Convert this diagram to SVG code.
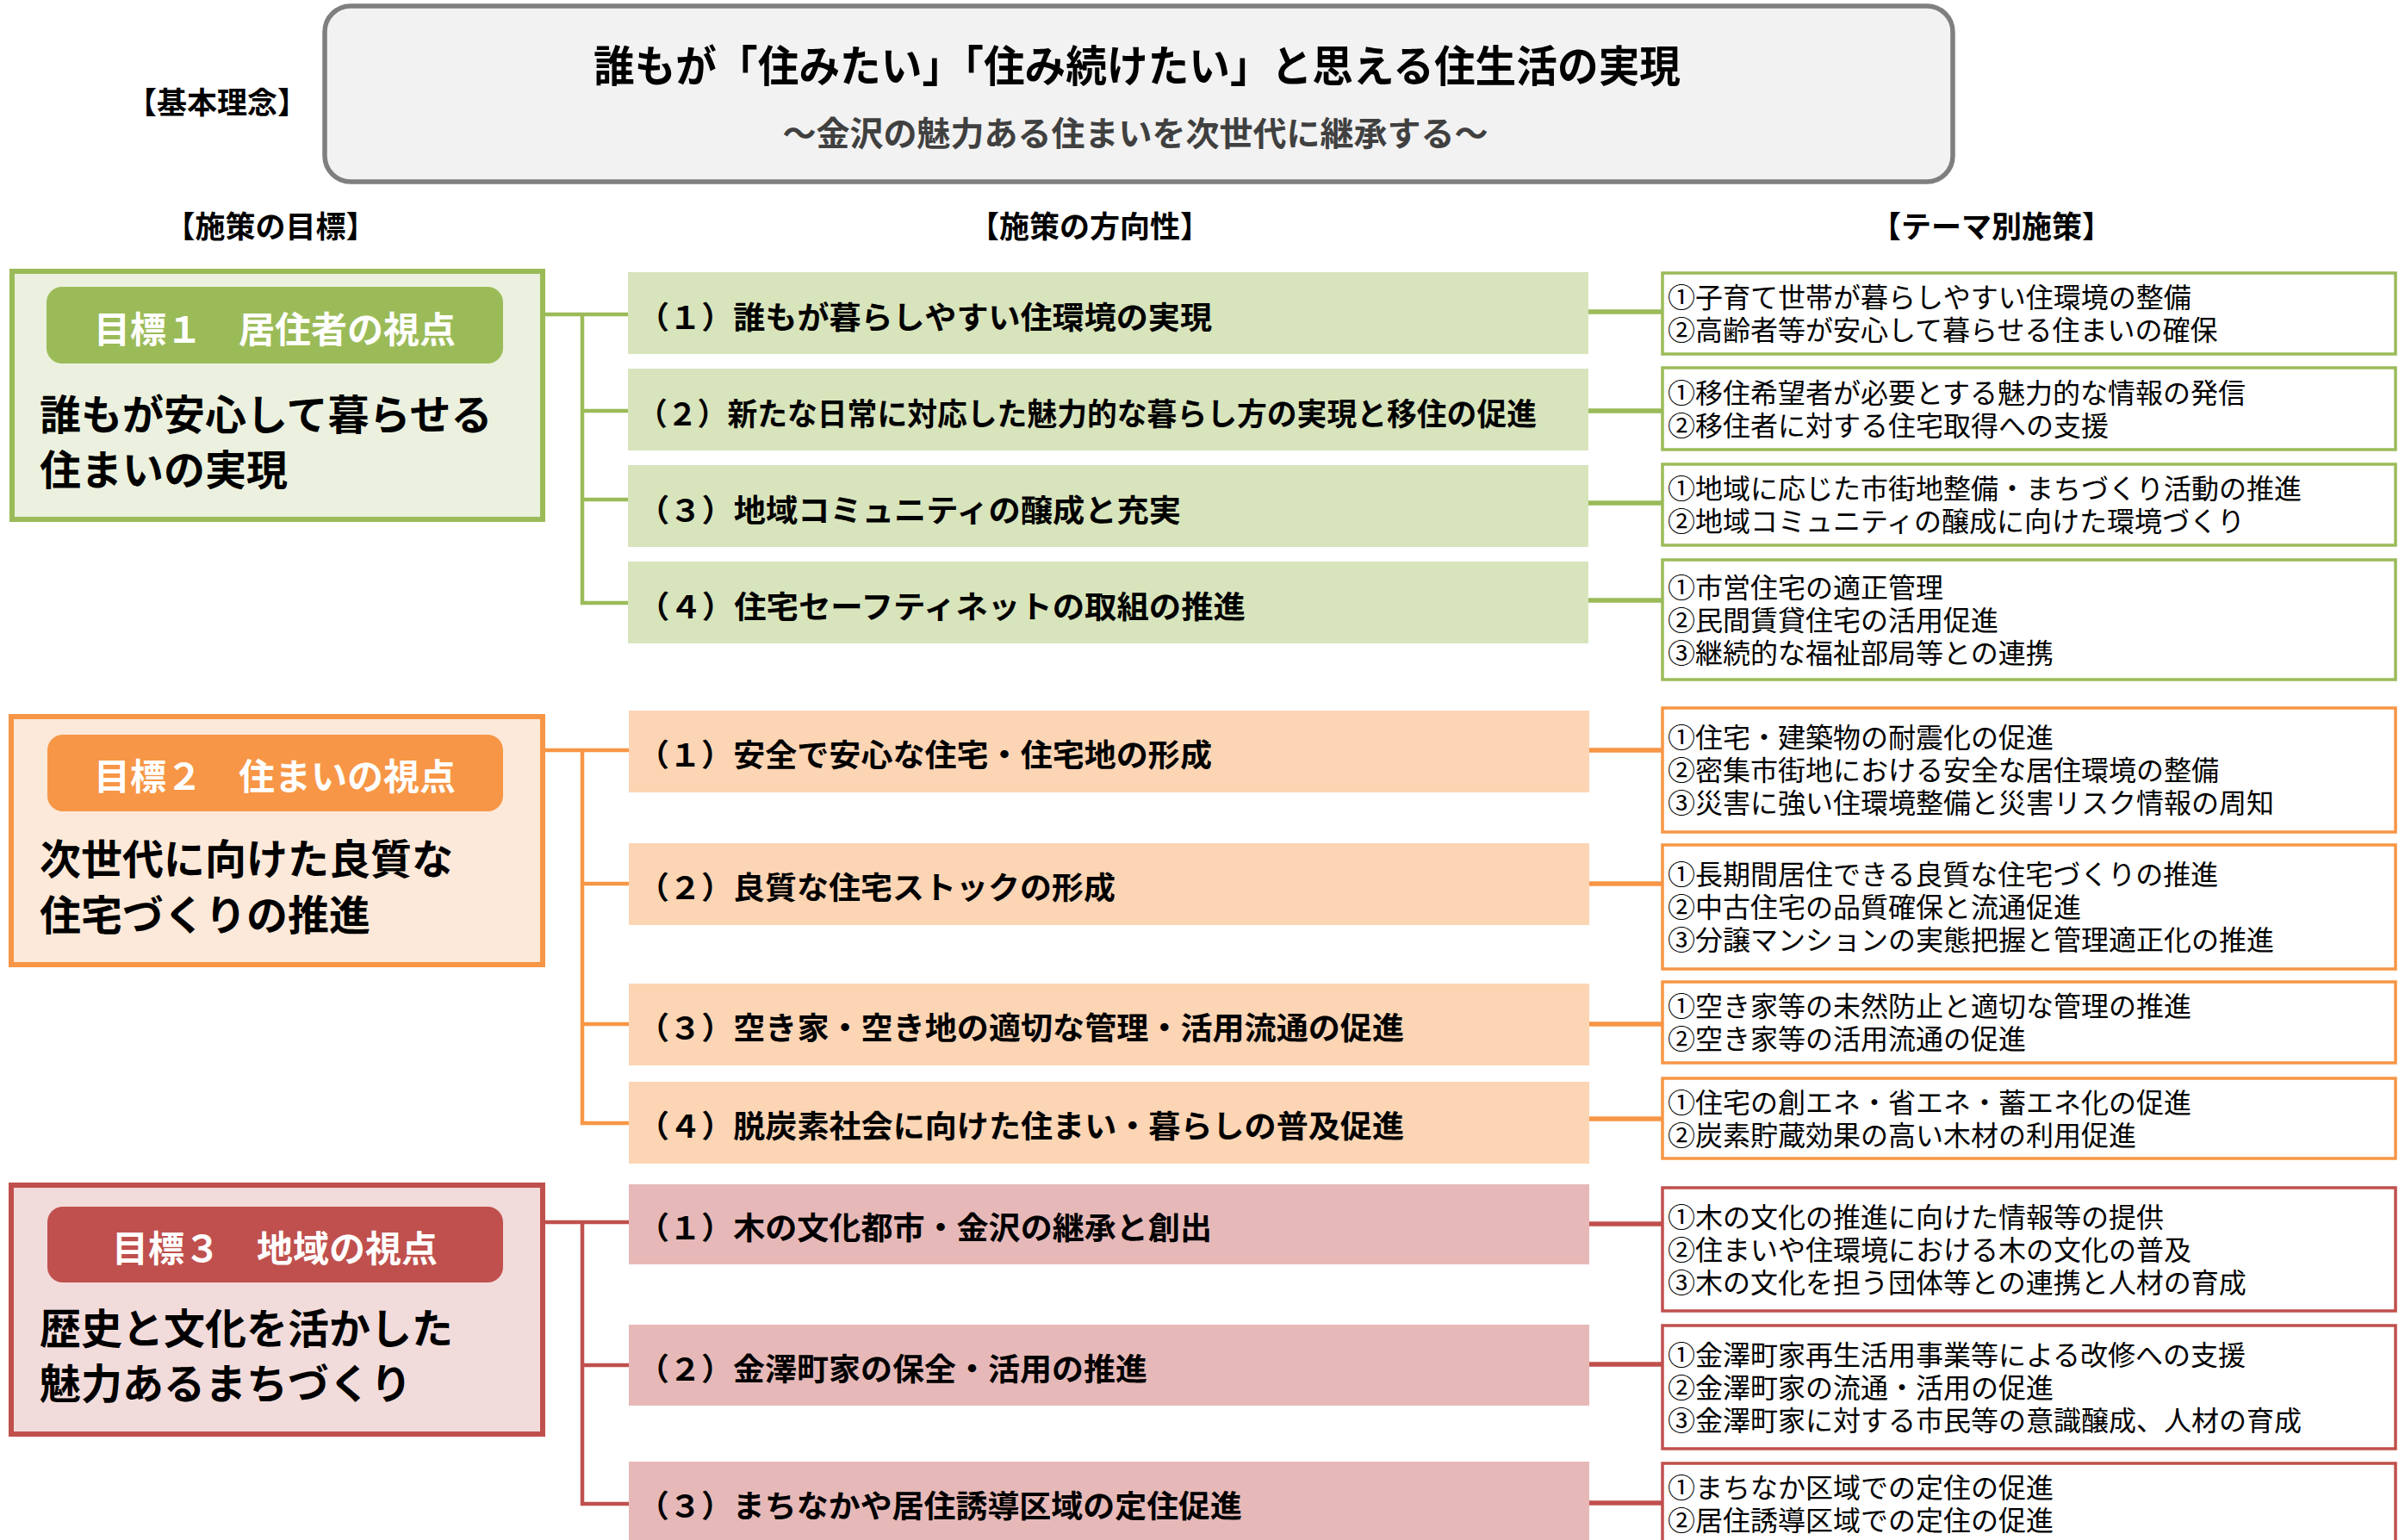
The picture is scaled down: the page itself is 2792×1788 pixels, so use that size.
<svg xmlns="http://www.w3.org/2000/svg" width="2792" height="1788" viewBox="0 0 2792 1788">
<style>
text{font-family:"Noto Sans CJK JP","Noto Sans",sans-serif}
.hd{font-size:35px;font-weight:700;fill:#000;text-anchor:middle}
.pill{font-size:42px;font-weight:700;fill:#fff;text-anchor:middle}
.body{font-size:48px;font-weight:700;fill:#000}
.dir{font-size:36px;font-weight:700;fill:#000}
.th{font-size:32px;fill:#000}
.gB{fill:#ebf1de;stroke:#9bbb59;stroke-width:6}
.oB{fill:#fde9d9;stroke:#f79646;stroke-width:6}
.rB{fill:#f2dcdb;stroke:#c0504d;stroke-width:6}
.gD{fill:#d8e4bc}.oD{fill:#fcd5b5}.rD{fill:#e6b9b8}
.gT{fill:#fff;stroke:#9bbb59;stroke-width:3.5}
.oT{fill:#fff;stroke:#f79646;stroke-width:3.5}
.rT{fill:#fff;stroke:#c0504d;stroke-width:3.5}
.cl{fill:none;stroke-width:4.5}
.cr{fill:none;stroke-width:5.5}
</style>
<g id="title">
<rect x="377" y="7" width="1890" height="204" rx="30" fill="#f2f2f2" stroke="#7f7f7f" stroke-width="5.5"/>
<text x="1320" y="95" font-size="50" font-weight="700" text-anchor="middle" textLength="1262" lengthAdjust="spacingAndGlyphs">誰もが「住みたい」「住み続けたい」と思える住生活の実現</text>
<text x="1318" y="169" font-size="39" font-weight="700" fill="#404040" text-anchor="middle">～金沢の魅力ある住まいを次世代に継承する～</text>
</g>
<g id="headers">
<text class="hd" x="252" y="132">【基本理念】</text>
<text class="hd" x="314" y="276">【施策の目標】</text>
<text class="hd" x="1265" y="276">【施策の方向性】</text>
<text class="hd" x="2312" y="276">【テーマ別施策】</text>
</g>
<g id="connectors">
<path class="cl" stroke="#9bbb59" d="M633 365H729M676 365V700H729M676 477H729M676 580H729"/>
<path class="cl" stroke="#f79646" d="M633 871H730M676 871V1304H730M676 1026H730M676 1189H730"/>
<path class="cl" stroke="#c0504d" d="M633 1419H730M676 1419V1746H730M676 1585H730"/>
<path class="cr" stroke="#9bbb59" d="M1844 362H1930M1844 477H1930M1844 584H1930M1844 697H1930"/>
<path class="cr" stroke="#f79646" d="M1845 871H1930M1845 1026H1930M1845 1189H1930M1845 1299H1930"/>
<path class="cr" stroke="#c0504d" d="M1845 1421H1930M1845 1584H1930M1845 1745H1930"/>
</g>
<g id="goal1">
<rect class="gB" x="14" y="315" width="616" height="288"/>
<rect x="54" y="333" width="530" height="89" rx="18" fill="#9bbb59"/>
<text class="pill" x="319" y="398">目標１　居住者の視点</text>
<text class="body" x="46" y="499">誰もが安心して暮らせる<tspan x="46" dy="64">住まいの実現</tspan></text>
</g>
<g id="goal2">
<rect class="oB" x="13" y="832" width="617" height="288"/>
<rect x="55" y="853" width="529" height="89" rx="18" fill="#f79646"/>
<text class="pill" x="319" y="917">目標２　住まいの視点</text>
<text class="body" x="46" y="1015">次世代に向けた良質な<tspan x="46" dy="65">住宅づくりの推進</tspan></text>
</g>
<g id="goal3">
<rect class="rB" x="13" y="1376" width="617" height="289"/>
<rect x="55" y="1401" width="529" height="88" rx="18" fill="#c0504d"/>
<text class="pill" x="319" y="1465">目標３　地域の視点</text>
<text class="body" x="46" y="1560">歴史と文化を活かした<tspan x="46" dy="64">魅力あるまちづくり</tspan></text>
</g>
<g id="dir-g1"><rect class="gD" x="729" y="316" width="1115" height="95"/><text class="dir" x="740" y="382" textLength="667" lengthAdjust="spacingAndGlyphs">（１）誰もが暮らしやすい住環境の実現</text></g>
<g id="dir-g2"><rect class="gD" x="729" y="428" width="1115" height="95"/><text class="dir" x="740" y="494" textLength="1044" lengthAdjust="spacingAndGlyphs">（２）新たな日常に対応した魅力的な暮らし方の実現と移住の促進</text></g>
<g id="dir-g3"><rect class="gD" x="729" y="540" width="1115" height="95"/><text class="dir" x="740" y="606" textLength="631" lengthAdjust="spacingAndGlyphs">（３）地域コミュニティの醸成と充実</text></g>
<g id="dir-g4"><rect class="gD" x="729" y="652" width="1115" height="95"/><text class="dir" x="740" y="718" textLength="706" lengthAdjust="spacingAndGlyphs">（４）住宅セーフティネットの取組の推進</text></g>
<g id="dir-o1"><rect class="oD" x="730" y="825" width="1115" height="95"/><text class="dir" x="740" y="890" textLength="667" lengthAdjust="spacingAndGlyphs">（１）安全で安心な住宅・住宅地の形成</text></g>
<g id="dir-o2"><rect class="oD" x="730" y="979" width="1115" height="95"/><text class="dir" x="740" y="1044" textLength="555" lengthAdjust="spacingAndGlyphs">（２）良質な住宅ストックの形成</text></g>
<g id="dir-o3"><rect class="oD" x="730" y="1142" width="1115" height="95"/><text class="dir" x="740" y="1207" textLength="890" lengthAdjust="spacingAndGlyphs">（３）空き家・空き地の適切な管理・活用流通の促進</text></g>
<g id="dir-o4"><rect class="oD" x="730" y="1256" width="1115" height="95"/><text class="dir" x="740" y="1321" textLength="890" lengthAdjust="spacingAndGlyphs">（４）脱炭素社会に向けた住まい・暮らしの普及促進</text></g>
<g id="dir-r1"><rect class="rD" x="730" y="1375" width="1115" height="93"/><text class="dir" x="740" y="1439" textLength="667" lengthAdjust="spacingAndGlyphs">（１）木の文化都市・金沢の継承と創出</text></g>
<g id="dir-r2"><rect class="rD" x="730" y="1538" width="1115" height="94"/><text class="dir" x="740" y="1603" textLength="592" lengthAdjust="spacingAndGlyphs">（２）金澤町家の保全・活用の推進</text></g>
<g id="dir-r3"><rect class="rD" x="730" y="1697" width="1115" height="95"/><text class="dir" x="740" y="1762" textLength="702" lengthAdjust="spacingAndGlyphs">（３）まちなかや居住誘導区域の定住促進</text></g>
<g id="th-g1"><rect class="gT" x="1930" y="317" width="851" height="94"/><text class="th" x="1936" y="357">①子育て世帯が暮らしやすい住環境の整備<tspan x="1936" dy="38">②高齢者等が安心して暮らせる住まいの確保</tspan></text></g>
<g id="th-g2"><rect class="gT" x="1930" y="427" width="851" height="95"/><text class="th" x="1936" y="468">①移住希望者が必要とする魅力的な情報の発信<tspan x="1936" dy="38">②移住者に対する住宅取得への支援</tspan></text></g>
<g id="th-g3"><rect class="gT" x="1930" y="539" width="851" height="94"/><text class="th" x="1936" y="579">①地域に応じた市街地整備・まちづくり活動の推進<tspan x="1936" dy="38">②地域コミュニティの醸成に向けた環境づくり</tspan></text></g>
<g id="th-g4"><rect class="gT" x="1930" y="650" width="851" height="139"/><text class="th" x="1936" y="694">①市営住宅の適正管理<tspan x="1936" dy="38">②民間賃貸住宅の活用促進</tspan><tspan x="1936" dy="38">③継続的な福祉部局等との連携</tspan></text></g>
<g id="th-o1"><rect class="oT" x="1930" y="822" width="851" height="144"/><text class="th" x="1936" y="868">①住宅・建築物の耐震化の促進<tspan x="1936" dy="38">②密集市街地における安全な居住環境の整備</tspan><tspan x="1936" dy="38">③災害に強い住環境整備と災害リスク情報の周知</tspan></text></g>
<g id="th-o2"><rect class="oT" x="1930" y="981" width="851" height="144"/><text class="th" x="1936" y="1027">①長期間居住できる良質な住宅づくりの推進<tspan x="1936" dy="38">②中古住宅の品質確保と流通促進</tspan><tspan x="1936" dy="38">③分譲マンションの実態把握と管理適正化の推進</tspan></text></g>
<g id="th-o3"><rect class="oT" x="1930" y="1140" width="851" height="94"/><text class="th" x="1936" y="1180">①空き家等の未然防止と適切な管理の推進<tspan x="1936" dy="38">②空き家等の活用流通の促進</tspan></text></g>
<g id="th-o4"><rect class="oT" x="1930" y="1252" width="851" height="93"/><text class="th" x="1936" y="1292">①住宅の創エネ・省エネ・蓄エネ化の促進<tspan x="1936" dy="38">②炭素貯蔵効果の高い木材の利用促進</tspan></text></g>
<g id="th-r1"><rect class="rT" x="1930" y="1379" width="851" height="143"/><text class="th" x="1936" y="1425">①木の文化の推進に向けた情報等の提供<tspan x="1936" dy="38">②住まいや住環境における木の文化の普及</tspan><tspan x="1936" dy="38">③木の文化を担う団体等との連携と人材の育成</tspan></text></g>
<g id="th-r2"><rect class="rT" x="1930" y="1539" width="851" height="143"/><text class="th" x="1936" y="1585">①金澤町家再生活用事業等による改修への支援<tspan x="1936" dy="38">②金澤町家の流通・活用の促進</tspan><tspan x="1936" dy="38">③金澤町家に対する市民等の意識醸成、人材の育成</tspan></text></g>
<g id="th-r3"><rect class="rT" x="1930" y="1699" width="851" height="96"/><text class="th" x="1936" y="1739">①まちなか区域での定住の促進<tspan x="1936" dy="38">②居住誘導区域での定住の促進</tspan></text></g>
</svg>
